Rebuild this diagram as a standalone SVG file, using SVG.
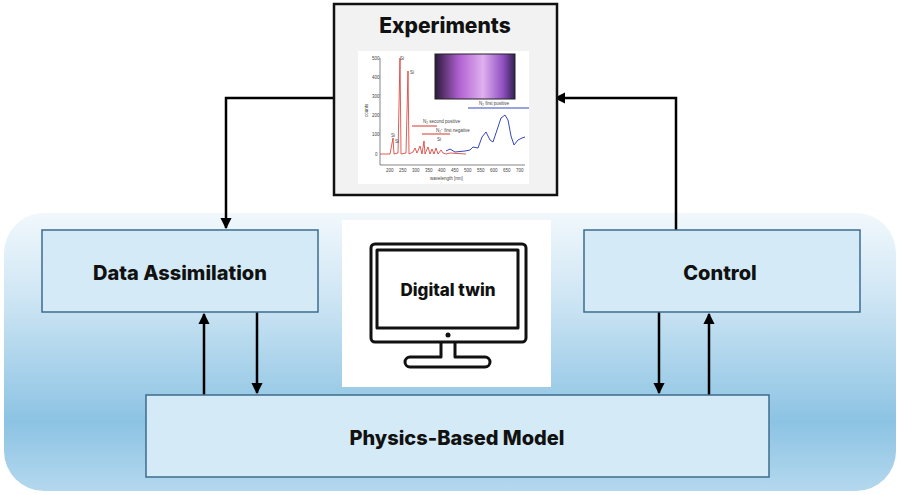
<svg xmlns="http://www.w3.org/2000/svg" width="900" height="495" viewBox="0 0 900 495">
<style>
.box{fill:#d4ebf7;stroke:#3d6c8e;stroke-width:1.5}
.lbl{font-family:Inter,"Liberation Sans",sans-serif;font-weight:800;fill:#111;text-anchor:middle}
.con{stroke:#000;stroke-width:2.5;fill:none}
.ax{font-family:"Liberation Sans",sans-serif;font-size:4.5px;fill:#444}
.ic{fill:none;stroke:#111;stroke-width:3;stroke-linejoin:round}
</style>
<defs>
<linearGradient id="bg" x1="0" y1="0" x2="0" y2="1">
<stop offset="0" stop-color="#f1f8fc"/>
<stop offset="0.3" stop-color="#cfe6f4"/>
<stop offset="0.75" stop-color="#8cc3e3"/>
<stop offset="1" stop-color="#b4d8ee"/>
</linearGradient>
<linearGradient id="glow" x1="0" y1="0" x2="1" y2="0">
<stop offset="0" stop-color="#2a1a3a"/>
<stop offset="0.3" stop-color="#b060d0"/>
<stop offset="0.6" stop-color="#e0b0f0"/>
<stop offset="0.85" stop-color="#9050c0"/>
<stop offset="1" stop-color="#302050"/>
</linearGradient>
<marker id="ah" viewBox="0 0 10 10" refX="9" refY="5" markerWidth="4.5" markerHeight="4.5" orient="auto"><path d="M0,0L10,5L0,10z" fill="#000"/></marker>
</defs>
<rect x="4" y="213" width="892" height="278" rx="40" fill="url(#bg)"/>
<g id="connectors">
<path class="con" d="M334,98H226V228" marker-end="url(#ah)"/>
<path class="con" d="M676,230V98H555" marker-end="url(#ah)"/>
<path class="con" d="M204,395V314" marker-end="url(#ah)"/>
<path class="con" d="M257,312V393" marker-end="url(#ah)"/>
<path class="con" d="M659,312V393" marker-end="url(#ah)"/>
<path class="con" d="M709,395V314" marker-end="url(#ah)"/>
</g>
<g id="experiments">
<rect x="334" y="4" width="223" height="191" fill="#f2f2f2" stroke="#111" stroke-width="2.5"/>
<text class="lbl" x="445" y="33" font-size="21">Experiments</text>
<rect x="358" y="51" width="171" height="133" fill="#fff"/>
<path d="M380,58V165H525" stroke="#333" stroke-width="0.6" fill="none"/>
<text class="ax" x="372" y="60">500</text><text class="ax" x="372" y="79">400</text><text class="ax" x="372" y="98">300</text><text class="ax" x="372" y="117">200</text><text class="ax" x="372" y="136">100</text><text class="ax" x="375" y="156">0</text>
<text class="ax" x="386" y="172">200</text><text class="ax" x="399" y="172">250</text><text class="ax" x="412" y="172">300</text><text class="ax" x="425" y="172">350</text><text class="ax" x="438" y="172">400</text><text class="ax" x="451" y="172">450</text><text class="ax" x="464" y="172">500</text><text class="ax" x="477" y="172">550</text><text class="ax" x="490" y="172">600</text><text class="ax" x="503" y="172">650</text><text class="ax" x="516" y="172">700</text>
<text class="ax" x="430" y="180">wavelength [nm]</text>
<text class="ax" transform="translate(368,117) rotate(-90)">counts</text>
<path d="M380,154L390,154L393,138L394,154L398,153L400,58L401,154L406,153L408,71L409,154L413,152L415,148L417,153L420,146L422,154L424,141L425,154L428,147L430,154L432,149L434,154L436,148L438,154L441,150L443,153L446,154L450,153L466,154" stroke="#d9342b" stroke-width="0.8" fill="none"/>
<path d="M446,151L450,149L455,152L465,151L470,150L473,147L478,148L482,137L486,132L490,140L493,142L497,130L501,118L505,115L508,120L511,136L514,145L518,140L522,138L525,137" stroke="#3747c0" stroke-width="1" fill="none"/>
<line x1="412" y1="126" x2="437" y2="126" stroke="#d9342b" stroke-width="1"/>
<line x1="422" y1="134" x2="450" y2="134" stroke="#d9342b" stroke-width="1"/>
<line x1="468" y1="108" x2="529" y2="108" stroke="#3747c0" stroke-width="1.2"/>
<text class="ax" x="423" y="123">N₂ second positive</text>
<text class="ax" x="436" y="132">N₂⁺ first negative</text>
<text class="ax" x="479" y="105">N₂ first positive</text>
<text class="ax" x="400" y="60">Si</text><text class="ax" x="410" y="74">Si</text><text class="ax" x="391" y="137">Si</text><text class="ax" x="395" y="143">Si</text><text class="ax" x="437" y="141">Si</text>
<rect x="435" y="54" width="80" height="45" fill="url(#glow)" stroke="#222" stroke-width="1"/>
</g>
<g id="data-assimilation">
<rect class="box" x="42" y="230" width="276" height="82"/>
<text class="lbl" x="180" y="280" font-size="20">Data Assimilation</text>
</g>
<g id="control">
<rect class="box" x="584" y="230" width="276" height="82"/>
<text class="lbl" x="720" y="280" font-size="20">Control</text>
</g>
<g id="physics-model">
<rect class="box" x="146" y="395" width="623" height="82"/>
<text class="lbl" x="457" y="445" font-size="20">Physics-Based Model</text>
</g>
<g id="digital-twin">
<rect x="342" y="220" width="209" height="167" fill="#fff"/>
<rect class="ic" x="371" y="244" width="155" height="98" rx="4"/>
<rect class="ic" x="377" y="250" width="141" height="78"/>
<circle cx="448" cy="335" r="2.5" fill="#111"/>
<path class="ic" d="M441,342V357H410a3,3 0 0 0 0,10H485a3,3 0 0 0 0,-10H455V342"/>
<text class="lbl" x="448" y="296" font-size="17">Digital twin</text>
</g>
</svg>
